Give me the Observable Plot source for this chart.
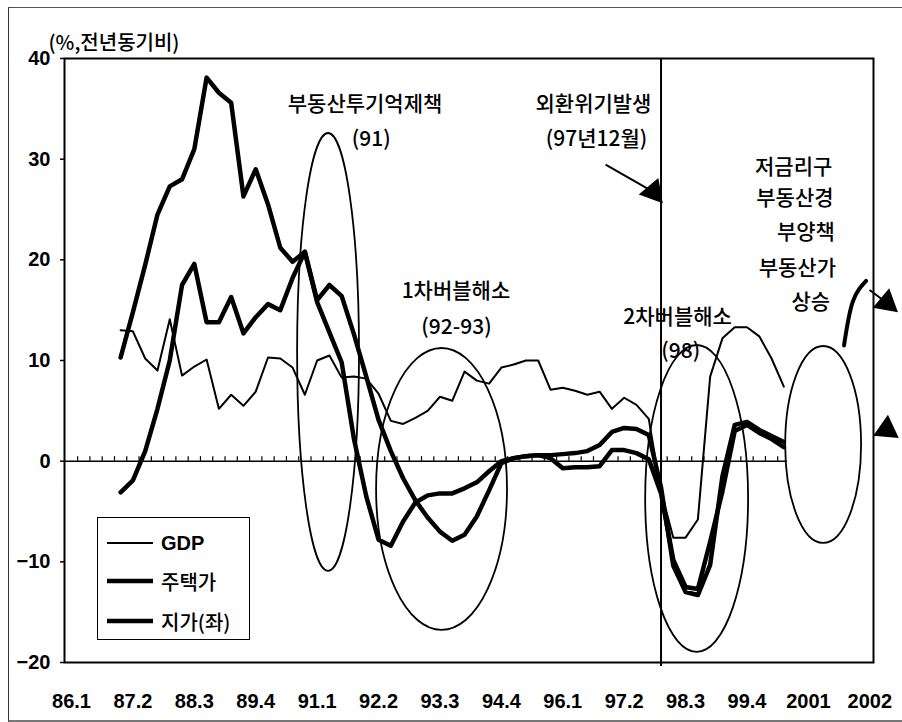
<!DOCTYPE html>
<html>
<head>
<meta charset="utf-8">
<script src="https://cdn.jsdelivr.net/npm/d3@7"></script>
<script src="https://cdn.jsdelivr.net/npm/@observablehq/plot@0.6"></script>
<style>
  html, body { margin: 0; padding: 0; background: #fff; }
  #wrap { position: relative; width: 902px; height: 722px; overflow: hidden; }
  #border { position: absolute; left: 8px; top: 7px; right: -4px; bottom: 0; border-left: 1.5px solid #333; border-top: 1.5px solid #555; border-bottom: 2px solid #777; }
  #chart { position: absolute; left: 0; top: 0; }
  #legend { position: absolute; left: 97px; top: 517px; width: 151px; height: 121px; border: 1.5px solid #000; background: #fff; }
  #legend .row { position: absolute; left: 0; height: 30px; display: flex; align-items: center; }
  #legend svg { margin-left: 9px; margin-right: 8px; }
  #legend span { font-size: 20px; color: #000; }
  .num { font-family: "Liberation Sans", Arial, sans-serif; font-weight: bold; }
  .kr { font-family: "Noto Sans CJK KR", sans-serif; font-size: 21px; font-weight: 500; }
</style>
</head>
<body>
<div id="wrap">
  <div id="border"></div>
  <div id="chart"></div>
  <div id="legend"></div>
</div>
<script>
// Quarterly categories 86.1 … 2002.2, plotted by position index
const quarters = d3.range(1986, 2003)
  .flatMap(y => [1, 2, 3, 4].map(q => (y < 2000 ? String(y % 100) : String(y)) + "." + q))
  .slice(0, 66);

// Labelled quarters on the category axis
const tickQuarters = ["86.1","87.2","88.3","89.4","91.1","92.2","93.3","94.4","96.1","97.2","98.3","99.4","2001.1","2002.2"];
const tickLabels   = ["86.1","87.2","88.3","89.4","91.1","92.2","93.3","94.4","96.1","97.2","98.3","99.4","2001","2002"];

// Year-on-year growth (%), 87.1 – 2000.3
const seriesStart = "87.1";
const gdp = [13.0, 12.9, 10.2, 9.0, 14.1, 8.5, 9.4, 10.1, 5.2, 6.6, 5.5, 6.9, 10.3, 10.2, 9.3, 6.6,
  10.0, 10.5, 8.3, 8.4, 8.2, 6.7, 4.0, 3.7, 4.3, 5.0, 6.4, 6.0, 8.9, 8.0, 7.7, 9.3,
  9.6, 10.0, 10.0, 7.1, 7.3, 7.0, 6.6, 6.9, 5.2, 6.3, 5.6, 4.2,
  -3.0, -7.6, -7.6, -5.8, 8.4, 12.2, 13.3, 13.3, 12.4, 10.2, 7.4];
const housePrice = [-3.1, -1.9, 1.0, 5.2, 10.0, 17.5, 19.6, 13.8, 13.8, 16.3, 12.7, 14.3, 15.6, 15.0, 18.2, 20.8,
  15.8, 12.8, 9.8, 2.2, -3.5, -7.8, -8.4, -6.0, -4.1, -3.4, -3.2, -3.2, -2.7, -2.1, -1.0, 0.0,
  0.3, 0.5, 0.6, 0.6, 0.7, 0.8, 1.0, 1.6, 2.9, 3.3, 3.2, 2.6,
  -2.6, -10.4, -13.0, -13.3, -10.3, -1.5, 3.6, 3.9, 3.1, 2.5, 1.9];
const landPrice = [10.3, 14.8, 19.5, 24.5, 27.3, 28.0, 31.0, 38.1, 36.6, 35.6, 26.3, 29.0, 25.5, 21.2, 19.8, 20.8,
  16.0, 17.5, 16.4, 12.6, 8.4, 4.1, 1.0, -1.7, -3.9, -5.6, -7.0, -7.9, -7.3, -5.5, -2.9, -0.2,
  0.3, 0.5, 0.6, 0.3, -0.7, -0.6, -0.6, -0.5, 1.1, 1.1, 0.8, 0.2,
  -3.2, -9.8, -12.5, -12.7, -8.0, -3.0, 3.0, 3.6, 2.8, 2.2, 1.4];

// Sketched rebound of asset prices after 2001 (quarter position, %)
const reboundPos = [62.9, 63.6, 64.7];
const reboundVal = [11.5, 15.8, 17.9];

const crisisQuarter = "98.1";
const lastAxisQuarter = 58.3;

// Annotation texts (quarter position, % level)
const notes = [
  {text: "부동산투기억제책", x: 23.9, y: 35.5},
  {text: "(91)", x: 24.4, y: 32.0},
  {text: "외환위기발생", x: 42.5, y: 35.5},
  {text: "(97년12월)", x: 42.75, y: 32.0},
  {text: "저금리구", x: 58.8, y: 29.2},
  {text: "부동산경", x: 58.9, y: 26.1},
  {text: "부양책", x: 59.8, y: 22.7},
  {text: "부동산가", x: 59.1, y: 19.2},
  {text: "상승", x: 60.2, y: 15.8},
  {text: "1차버블해소", x: 31.3, y: 16.85},
  {text: "(92-93)", x: 31.35, y: 13.3},
  {text: "2차버블해소", x: 49.35, y: 14.3},
  {text: "(98)", x: 49.6, y: 10.9}
];

// Circled episodes: centre and half-axes in (quarters, %)
const episodes = [
  {cx: 20.93, cy: 10.8, rx: 2.52, ry: 21.75},
  {cx: 30.17, cy: -2.81, rx: 5.33, ry: 14.0},
  {cx: 50.94, cy: -3.75, rx: 4.19, ry: 15.24},
  {cx: 61.24, cy: 1.61, rx: 3.09, ry: 9.78}
];

// Pointer arrows: tail → filled head
const pointers = [
  {x1: 43.49, y1: 29.46, x2: 47.37, y2: 26.75, rotate: 140},
  {x1: 64.98, y1: 17.0, x2: 66.37, y2: 15.74, rotate: 130},
  {x1: 66.37, y1: 3.15, x2: 66.37, y2: 3.15, rotate: 125}
];

const start = quarters.indexOf(seriesStart);
const rows = gdp.map((v, k) => ({i: start + k, q: quarters[start + k], gdp: v, house: housePrice[k], land: landPrice[k]}));
const rebound = reboundPos.map((p, k) => ({i: p, v: reboundVal[k]}));
const tickIdx = tickQuarters.map(q => quarters.indexOf(q));
const tickText = new Map(tickIdx.map((d, k) => [d, tickLabels[k]]));
const boundaries = d3.range(0.5, lastAxisQuarter, 1);

function ellipseMark(data) {
  return (index, scales) => {
    const g = d3.create("svg:g").attr("fill", "none").attr("stroke", "black").attr("stroke-width", 1.8);
    for (const e of data) {
      const cx = scales.x(e.cx), cy = scales.y(e.cy);
      g.append("ellipse")
        .attr("cx", cx).attr("cy", cy)
        .attr("rx", Math.abs(scales.x(e.cx + e.rx) - cx))
        .attr("ry", Math.abs(scales.y(e.cy + e.ry) - cy));
    }
    return g.node();
  };
}

const kr = "Noto Sans CJK KR, sans-serif";

const chart = Plot.plot({
  width: 902,
  height: 722,
  marginLeft: 64,
  marginRight: 29,
  marginTop: 58,
  marginBottom: 60,
  style: {fontFamily: "Liberation Sans, Arial, sans-serif", fontSize: "20px", color: "black", background: "transparent"},
  x: {domain: [-0.57, 65.3], axis: null},
  y: {domain: [-20, 40], axis: null},
  marks: [
    Plot.axisX(tickIdx, {tickSize: 0, tickPadding: 31, fontSize: 20, fontWeight: "bold", tickFormat: d => tickText.get(d)}),
    Plot.axisY([-20, -10, 0, 10, 20, 30, 40], {tickSize: 4, tickPadding: 10, fontSize: 20, fontWeight: "bold", strokeWidth: 1.5}),
    Plot.ruleY([0], {x1: -0.57, x2: lastAxisQuarter, stroke: "black", strokeWidth: 1.5}),
    Plot.ruleX(boundaries, {y1: 0, y2: 0.45, stroke: "black", strokeWidth: 1.2}),
    Plot.ruleX([quarters.indexOf(crisisQuarter)], {y1: 40, y2: -20.4, stroke: "black", strokeWidth: 2}),
    ellipseMark(episodes),
    Plot.line(rows, {x: "i", y: "gdp", stroke: "black", strokeWidth: 2}),
    Plot.line(rows, {x: "i", y: "house", stroke: "black", strokeWidth: 4.5}),
    Plot.line(rows, {x: "i", y: "land", stroke: "black", strokeWidth: 4.5}),
    Plot.line(rebound, {x: "i", y: "v", stroke: "black", strokeWidth: 4, curve: "natural"}),
    Plot.link(pointers, {x1: "x1", y1: "y1", x2: "x2", y2: "y2", stroke: "black", strokeWidth: 2}),
    Plot.dot(pointers, {x: "x2", y: "y2", symbol: "triangle", r: 9.5, fill: "black", stroke: null, rotate: "rotate"}),
    Plot.text(notes, {x: "x", y: "y", text: "text", fontFamily: kr, fontSize: 21, fontWeight: 500, fill: "black"}),
    Plot.text(["(%,전년동기비)"], {frameAnchor: "top-left", dx: -16, dy: -23, textAnchor: "start", fontFamily: kr, fontSize: 20, fontWeight: 500, fill: "black"}),
    Plot.frame({stroke: "black", strokeWidth: 2})
  ]
});
document.getElementById("chart").append(chart);

// Legend
const legendItems = [
  {label: "GDP", width: 2, cls: "num", top: 10},
  {label: "주택가", width: 4.5, cls: "kr", top: 48},
  {label: "지가(좌)", width: 4.5, cls: "kr", top: 88}
];
const legend = d3.select("#legend");
for (const item of legendItems) {
  const row = legend.append("div").attr("class", "row").style("top", item.top + "px");
  row.append("svg").attr("width", 46).attr("height", 10)
    .append("line").attr("x1", 0).attr("x2", 46).attr("y1", 5).attr("y2", 5)
    .attr("stroke", "black").attr("stroke-width", item.width);
  row.append("span").attr("class", item.cls).text(item.label);
}
</script>
</body>
</html>
